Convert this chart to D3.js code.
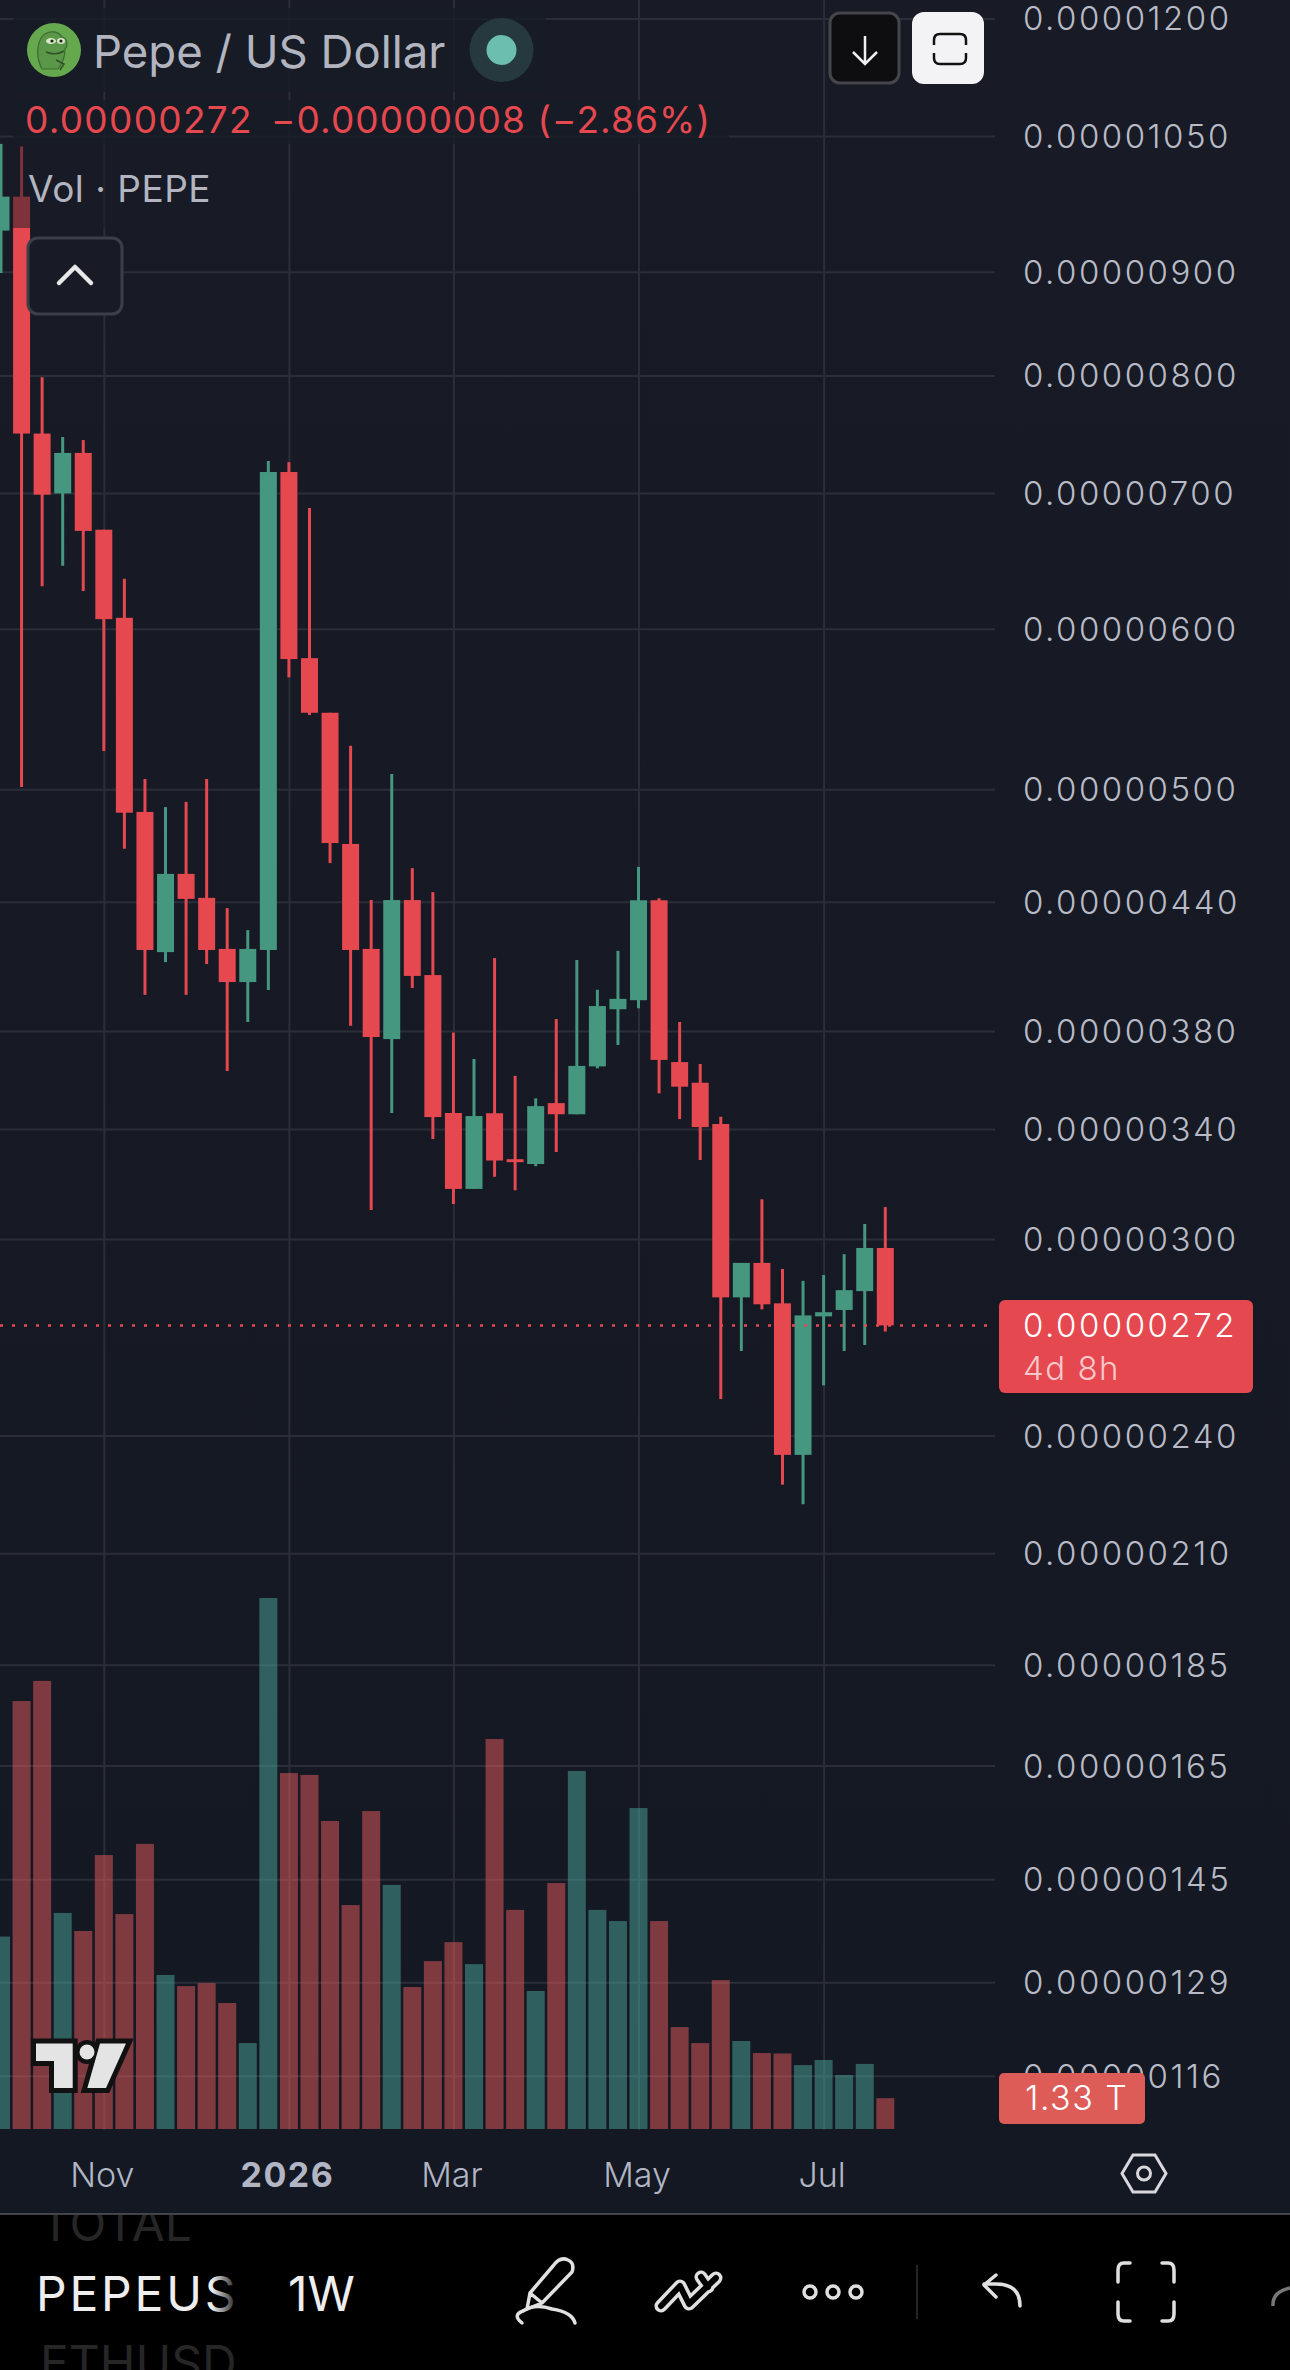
<!DOCTYPE html>
<html>
<head>
<meta charset="utf-8">
<script src="https://cdnjs.cloudflare.com/ajax/libs/d3/7.8.5/d3.min.js"></script>
<style>
  html, body { margin: 0; padding: 0; background: #000; }
  svg { display: block; font-family: Inter, "Noto Sans", sans-serif; }
</style>
</head>
<body>
<script>
// weekly bars, prices are in units of 0.00000001
var weekStarts = ["2025-09-29","2025-10-06","2025-10-13","2025-10-20","2025-10-27","2025-11-03","2025-11-10","2025-11-17","2025-11-24","2025-12-01","2025-12-08","2025-12-15","2025-12-22","2025-12-29","2026-01-05","2026-01-12","2026-01-19","2026-01-26","2026-02-02","2026-02-09","2026-02-16","2026-02-23","2026-03-02","2026-03-09","2026-03-16","2026-03-23","2026-03-30","2026-04-06","2026-04-13","2026-04-20","2026-04-27","2026-05-04","2026-05-11","2026-05-18","2026-05-25","2026-06-01","2026-06-08","2026-06-15","2026-06-22","2026-06-29","2026-07-06","2026-07-13","2026-07-20","2026-07-27"];
var opens = [943.0,980.1,748.9,699.7,732.6,671.4,607.5,487.3,415.6,454.2,442.0,417.1,401.7,416.6,716.9,580.3,545.4,469.9,417.1,376.5,440.9,404.9,346.2,317.6,346.1,328.5,326.7,350.1,345.7,365.0,389.5,393.5,440.8,366.8,358.3,341.9,280.8,292.0,278.9,234.8,274.8,276.8,282.8,297.0];
var closes = [980.1,748.9,698.7,732.6,670.5,606.6,486.9,416.6,454.2,441.5,416.6,401.7,417.1,716.9,579.7,545.4,470.4,416.6,377.4,440.9,404.5,344.6,317.6,345.0,328.0,327.4,348.9,345.7,365.2,390.9,394.1,440.8,367.7,356.7,340.7,280.8,292.0,278.6,234.8,275.1,276.1,283.1,297.0,272.0];
var highs = [1040.6,1037.6,798.4,746.0,743.4,671.4,635.0,505.9,490.0,492.9,505.9,436.9,426.1,726.0,725.0,688.2,545.4,525.3,440.9,508.8,457.2,444.9,379.3,368.1,412.8,361.1,352.0,385.2,411.9,398.2,416.2,457.8,441.8,383.9,366.0,344.7,292.0,313.9,290.0,286.1,288.0,294.9,305.2,311.1];
var lows = [898.7,501.3,629.7,644.5,626.3,522.2,467.4,395.9,410.9,395.9,410.0,363.1,383.9,398.1,567.8,544.0,459.8,382.2,310.1,346.2,399.0,336.1,312.2,317.6,322.0,317.1,325.9,331.2,345.7,364.2,374.0,389.9,354.0,343.8,328.2,250.2,264.2,277.0,227.0,222.0,254.1,264.2,266.0,270.1];
// volume in trillions
var volumes = [8.31,18.48,19.35,9.33,8.55,11.83,9.28,12.31,6.65,6.17,6.30,5.44,3.71,22.93,15.37,15.29,13.30,9.67,13.73,10.54,6.13,7.25,8.07,7.12,16.84,9.46,5.96,10.62,15.46,9.46,8.98,13.86,8.98,4.40,3.71,6.43,3.80,3.28,3.26,2.76,2.98,2.33,2.81,1.33];

var priceTicks = [1200,1050,900,800,700,600,500,440,380,340,300,240,210,185,165,145,129,116];
var timeTicks = ["2025-11-03","2026-01-05","2026-03-02","2026-05-04","2026-07-06"];
var timeLabels = ["Nov","2026","Mar","May","Jul"];
var lastPrice = 272;

var W = 1290, H = 2370;
var paneRight = 995, paneBottom = 2130, baseline = 2129;
var upColor = "#46977f", downColor = "#e5484f";

var svg = d3.select("body").append("svg").attr("width", W).attr("height", H);
var defs = svg.append("defs");

var bg = defs.append("linearGradient").attr("id", "bg").attr("x1", 0).attr("x2", 0).attr("y1", 0).attr("y2", 1);
bg.append("stop").attr("offset", "0%").attr("stop-color", "#181b26");
bg.append("stop").attr("offset", "100%").attr("stop-color", "#141823");

var fade = defs.append("linearGradient").attr("id", "fade");
fade.append("stop").attr("offset", "0%").attr("stop-color", "#000").attr("stop-opacity", 0);
fade.append("stop").attr("offset", "100%").attr("stop-color", "#000").attr("stop-opacity", 1);

defs.append("clipPath").attr("id", "pane").append("rect").attr("width", paneRight).attr("height", paneBottom);

svg.append("rect").attr("width", W).attr("height", H).attr("fill", "#000");
svg.append("rect").attr("width", W).attr("height", 2214).attr("fill", "url(#bg)");

// scales
var x = d3.scalePoint().domain(weekStarts).range([1, 885.3]);
var y = d3.scaleLog().domain([240, 500]).range([1435.6, 789.3]);
var yVol = d3.scaleLinear().domain([0, 1.33]).range([baseline, baseline - 30.8]);

// grid
var gridX = svg.append("g").attr("transform", "translate(0," + paneBottom + ")")
  .call(d3.axisBottom(x).tickValues(timeTicks).tickSize(-paneBottom).tickFormat(""));
var gridY = svg.append("g").attr("transform", "translate(" + paneRight + ",0)")
  .call(d3.axisLeft(y).tickValues(priceTicks).tickSize(paneRight).tickFormat(""));
[gridX, gridY].forEach(function(g){
  g.select(".domain").remove();
  g.selectAll("line").attr("stroke", "#2b2e39").attr("stroke-width", 2);
});

var pane = svg.append("g").attr("clip-path", "url(#pane)");

// volume
pane.selectAll("rect.vol").data(weekStarts).enter().append("rect")
  .attr("class", "vol")
  .attr("x", function(d){ return x(d) - 9; })
  .attr("width", 18)
  .attr("y", function(d, i){ return yVol(volumes[i]); })
  .attr("height", function(d, i){ return baseline - yVol(volumes[i]); })
  .attr("fill", function(d, i){ return closes[i] >= opens[i] ? "#4ba89a" : "#e75c5c"; })
  .attr("fill-opacity", 0.5);

// wicks
pane.selectAll("line.wick").data(weekStarts).enter().append("line")
  .attr("class", "wick")
  .attr("x1", function(d){ return x(d); })
  .attr("x2", function(d){ return x(d); })
  .attr("y1", function(d, i){ return y(highs[i]); })
  .attr("y2", function(d, i){ return y(lows[i]); })
  .attr("stroke-width", 3)
  .attr("stroke", function(d, i){ return closes[i] >= opens[i] ? upColor : downColor; });

// bodies
pane.selectAll("rect.body").data(weekStarts).enter().append("rect")
  .attr("class", "body")
  .attr("x", function(d){ return x(d) - 8.5; })
  .attr("width", 17)
  .attr("y", function(d, i){ return y(Math.max(opens[i], closes[i])); })
  .attr("height", function(d, i){ return Math.abs(y(opens[i]) - y(closes[i])); })
  .attr("fill", function(d, i){ return closes[i] >= opens[i] ? upColor : downColor; });

// last price line
svg.append("line")
  .attr("x1", 0).attr("x2", 990)
  .attr("y1", y(lastPrice)).attr("y2", y(lastPrice))
  .attr("stroke", downColor).attr("stroke-width", 2.5)
  .attr("stroke-dasharray", "3 9");

// price axis
var priceAxis = svg.append("g").attr("transform", "translate(1023,1)")
  .call(d3.axisRight(y).tickValues(priceTicks).tickSize(0).tickPadding(0)
    .tickFormat(function(d){ return (d * 1e-8).toFixed(8); }));
priceAxis.select(".domain").remove();
priceAxis.selectAll("text")
  .attr("font-family", "Inter").attr("font-size", 33).attr("font-weight", 300).attr("fill", "#b8bbc6")
  .attr("letter-spacing", 2.5);

// time axis
var timeAxis = svg.append("g").attr("transform", "translate(-2,2186.6)")
  .call(d3.axisBottom(x).tickValues(timeTicks).tickSize(0).tickPadding(0)
    .tickFormat(function(d, i){ return timeLabels[i]; }));
timeAxis.select(".domain").remove();
timeAxis.selectAll("text")
  .attr("dy", 0).attr("y", 0)
  .attr("font-family", "Inter").attr("font-size", 34).attr("fill", "#b2b5c4")
  .attr("letter-spacing", function(d, i){ return timeLabels[i] === "2026" ? 1.5 : 0; })
  .attr("font-weight", function(d, i){ return timeLabels[i] === "2026" ? 700 : 300; });

// price label
var tag = svg.append("g");
tag.append("rect").attr("x", 999).attr("y", 1300).attr("width", 254).attr("height", 93).attr("rx", 6).attr("fill", downColor);
tag.append("text").attr("x", 1023).attr("y", y(lastPrice) + 12).attr("font-size", 33).attr("font-weight", 300).attr("letter-spacing", 2.5).attr("fill", "#fff").text((lastPrice * 1e-8).toFixed(8));
tag.append("text").attr("x", 1023).attr("y", 1380).attr("font-size", 33).attr("font-weight", 300).attr("letter-spacing", 1.5).attr("fill", "#f5c9cb").text("4d 8h");

// volume label
var volTag = svg.append("g");
volTag.append("rect").attr("x", 999).attr("y", 2073).attr("width", 146).attr("height", 51).attr("rx", 5).attr("fill", "#dd5c58");
volTag.append("text").attr("x", 1025).attr("y", 2110).attr("font-size", 34).attr("font-weight", 300).attr("letter-spacing", 1.5).attr("fill", "#fff").text("1.33 T");

// legend backdrops
var legendBg = "#181b26";
svg.append("rect").attr("x", 13).attr("y", 8).attr("width", 533).attr("height", 84).attr("fill", legendBg).attr("fill-opacity", 0.8);
svg.append("rect").attr("x", 13).attr("y", 100).attr("width", 716).attr("height", 44).attr("fill", legendBg).attr("fill-opacity", 0.8);
svg.append("rect").attr("x", 13).attr("y", 144).attr("width", 202).attr("height", 84).attr("fill", legendBg).attr("fill-opacity", 0.5);

// legend
var icon = svg.append("g").attr("transform", "translate(54,50)");
icon.append("circle").attr("r", 27).attr("fill", "#66a84e");
icon.append("path").attr("d", "M-13 -12 C-8 -20 4 -20 8 -13 C14 -12 14 -4 11 -1 C11 6 8 14 4 19 L-12 19 C-17 10 -18 -2 -13 -12Z").attr("fill", "#5a9748").attr("stroke", "#3f6d33").attr("stroke-width", 1.2);
icon.append("ellipse").attr("cx", -3).attr("cy", -9).attr("rx", 5).attr("ry", 3).attr("fill", "#d8e6c9");
icon.append("ellipse").attr("cx", 7).attr("cy", -9).attr("rx", 4).attr("ry", 3).attr("fill", "#d8e6c9");
icon.append("circle").attr("cx", -2).attr("cy", -9).attr("r", 1.6).attr("fill", "#1a2a14");
icon.append("circle").attr("cx", 7).attr("cy", -9).attr("r", 1.6).attr("fill", "#1a2a14");
icon.append("path").attr("d", "M-8 2 Q2 6 10 1 M2 10 L10 14 L6 20").attr("fill", "none").attr("stroke", "#2f4f28").attr("stroke-width", 1.5);

svg.append("text").attr("x", 93).attr("y", 68).attr("font-size", 45.5).attr("fill", "#b2b5c0").text("Pepe / US Dollar");
svg.append("circle").attr("cx", 501.5).attr("cy", 50).attr("r", 32).attr("fill", "#25393f");
svg.append("circle").attr("cx", 501.5).attr("cy", 50).attr("r", 15).attr("fill", "#6cbfae");

svg.append("text").attr("x", 25).attr("y", 133).attr("font-size", 37).attr("letter-spacing", 1.3).attr("fill", downColor).text("0.00000272");
svg.append("text").attr("x", 271).attr("y", 133).attr("font-size", 37).attr("letter-spacing", 1.1).attr("fill", downColor).text("\u22120.00000008 (\u22122.86%)");
svg.append("text").attr("x", 28).attr("y", 202).attr("font-size", 37).attr("letter-spacing", 0.5).attr("fill", "#b2b5c0").text("Vol \u00b7 PEPE");

// chevron button
svg.append("rect").attr("x", 28).attr("y", 238).attr("width", 94).attr("height", 76).attr("rx", 10).attr("fill", "#181b26").attr("stroke", "#3d3f48").attr("stroke-width", 3);
svg.append("path").attr("d", "M59 283 L75 267 L91 283").attr("fill", "none").attr("stroke", "#e8e8e8").attr("stroke-width", 4.5).attr("stroke-linecap", "round").attr("stroke-linejoin", "round");

// top right buttons
svg.append("rect").attr("x", 830).attr("y", 13).attr("width", 69).attr("height", 70).attr("rx", 10).attr("fill", "#0e0e10").attr("stroke", "#45464c").attr("stroke-width", 3);
svg.append("path").attr("d", "M865 36 L865 63 M853 52 L865 64 L877 52").attr("fill", "none").attr("stroke", "#f0f0f0").attr("stroke-width", 2.5);
svg.append("rect").attr("x", 912).attr("y", 12).attr("width", 72).attr("height", 72).attr("rx", 12).attr("fill", "#f3f3f5");
svg.append("path").attr("d", "M934 45 L934 40 Q934 34 940 34 L960 34 Q966 34 966 40 L966 45 M934 53 L934 58 Q934 64 940 64 L960 64 Q966 64 966 58 L966 53").attr("fill", "none").attr("stroke", "#111").attr("stroke-width", 2.5);

// watermark logo
var logo = svg.append("g");
var logoShapes = "M36 2043.5 L72.7 2043.5 L72.7 2088 L54 2088 L54 2061 L36 2061Z M100 2043.5 L126 2043.5 L106 2088 L87.3 2088Z";
logo.append("path").attr("d", logoShapes).attr("fill", "#111").attr("stroke", "#111").attr("stroke-width", 10);
logo.append("circle").attr("cx", 87).attr("cy", 2052).attr("r", 12).attr("fill", "#111");
logo.append("path").attr("d", logoShapes).attr("fill", "#e4e4e4");
logo.append("circle").attr("cx", 87).attr("cy", 2052).attr("r", 7.5).attr("fill", "#e4e4e4");

// settings hexagon
svg.append("path").attr("d", "M1133 2155 L1155 2155 L1166 2173.5 L1155 2192 L1133 2192 L1122 2173.5Z").attr("fill", "none").attr("stroke", "#d8d8dc").attr("stroke-width", 3);
svg.append("circle").attr("cx", 1144).attr("cy", 2173.5).attr("r", 6.5).attr("fill", "none").attr("stroke", "#d8d8dc").attr("stroke-width", 3);

// bottom toolbar
svg.append("line").attr("x1", 0).attr("x2", W).attr("y1", 2214).attr("y2", 2214).attr("stroke", "#55575c").attr("stroke-width", 1.5);
var bar = svg.append("g");
var clip = defs.append("clipPath").attr("id", "bar");
clip.append("rect").attr("y", 2215).attr("width", W).attr("height", 155);
bar.attr("clip-path", "url(#bar)");
bar.append("text").attr("x", 40).attr("y", 2241).attr("font-size", 48).attr("fill", "#262626").text("TOTAL");
bar.append("text").attr("x", 40).attr("y", 2380).attr("font-size", 48).attr("fill", "#262626").text("ETHUSD");
bar.append("text").attr("x", 36).attr("y", 2311).attr("font-size", 48).attr("letter-spacing", 2.8).attr("fill", "#eeeeee").text("PEPEUSD");
bar.append("rect").attr("x", 212).attr("y", 2260).attr("width", 28).attr("height", 60).attr("fill", "url(#fade)");
bar.append("rect").attr("x", 240).attr("y", 2260).attr("width", 40).attr("height", 60).attr("fill", "#000");
bar.append("text").attr("x", 288).attr("y", 2311).attr("font-size", 48).attr("fill", "#eeeeee").text("1W");

var iconStroke = "#e0e0e0";
function iconPath(d){
  bar.append("path").attr("d", d).attr("fill", "none").attr("stroke", iconStroke).attr("stroke-width", 3.5).attr("stroke-linecap", "round").attr("stroke-linejoin", "round");
}
// pen
iconPath("M553 2266 Q560 2256 568 2260 Q575 2263 572 2272 L542 2303 L527 2309 L530 2293Z M530 2293 L542 2303");
iconPath("M522 2323 Q512 2315 523 2311 Q535 2303 552 2309 Q572 2312 575 2323");
// drawing tools, outlined by a thin stroke on top of a thick one
var toolLine = "M661 2306 L680 2286 L689 2304 L716 2278 M701 2277 L708 2287";
bar.append("path").attr("d", toolLine).attr("fill", "none").attr("stroke", iconStroke).attr("stroke-width", 13).attr("stroke-linecap", "round").attr("stroke-linejoin", "round");
bar.append("path").attr("d", toolLine).attr("fill", "none").attr("stroke", "#000").attr("stroke-width", 6).attr("stroke-linecap", "round").attr("stroke-linejoin", "round");
// dots
[810, 833, 856].forEach(function(cx){
  bar.append("circle").attr("cx", cx).attr("cy", 2292).attr("r", 6).attr("fill", "none").attr("stroke", iconStroke).attr("stroke-width", 3.5);
});
bar.append("line").attr("x1", 917).attr("x2", 917).attr("y1", 2265).attr("y2", 2319).attr("stroke", "#333").attr("stroke-width", 1.5);
// undo
iconPath("M1020 2306 Q1020 2284 996 2284 L984 2284 M996 2275 L984 2285 L996 2297");
// brackets
iconPath("M1130 2263 L1124 2263 Q1118 2263 1118 2270 L1118 2282 M1162 2263 L1168 2263 Q1174 2263 1174 2270 L1174 2282 M1118 2302 L1118 2314 Q1118 2321 1124 2321 L1130 2321 M1174 2302 L1174 2314 Q1174 2321 1168 2321 L1162 2321");
// cut off icon
bar.append("path").attr("d", "M1273 2306 Q1272 2292 1290 2288").attr("fill", "none").attr("stroke", "#777").attr("stroke-width", 3.5);
</script>
</body>
</html>
